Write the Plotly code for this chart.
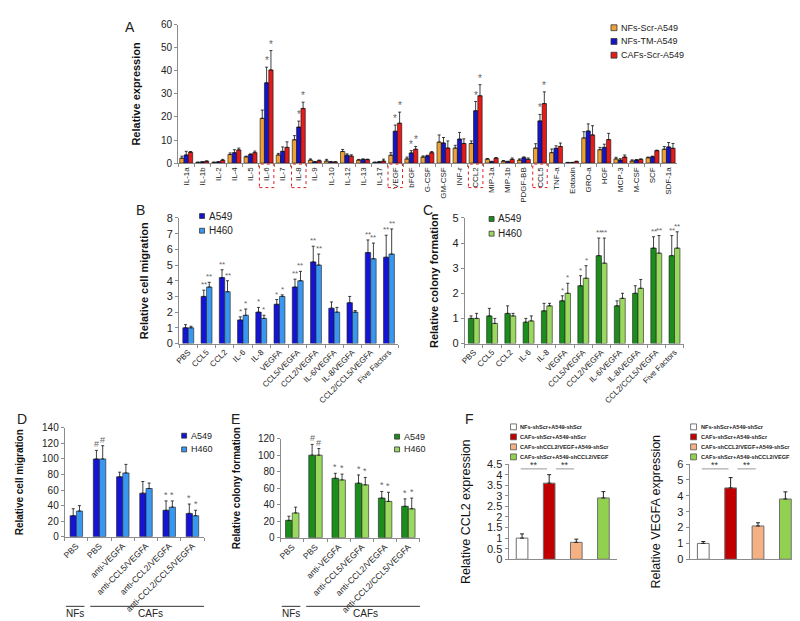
import plotly.graph_objects as go

W, H = 800, 621
FONT = "Arial, Liberation Sans, sans-serif"

# ---------------- Panel A: cytokine array ----------------
cytokines = ["IL-1a", "IL-1b", "IL-2", "IL-4", "IL-5", "IL-6", "IL-7", "IL-8", "IL-9", "IL-10",
             "IL-12", "IL-13", "IL-17", "VEGF", "bFGF", "G-CSF", "GM-CSF", "INF-r", "CCL2",
             "MIP-1a", "MIP-1b", "PDGF-BB", "CCL5", "TNF-a", "Eotaxin", "GRO-a", "HGF",
             "MCP-3", "M-CSF", "SCF", "SDF-1a"]
a_names = ["NFs-Scr-A549", "NFs-TM-A549", "CAFs-Scr-A549"]
a_nf_scr = [2.1, 0.3, 0.3, 3.7, 2.7, 19.4, 3.5, 10.1, 1.3, 0.9, 5.0, 1.3, 0.3, 3.4, 1.8, 2.6,
            9.1, 6.5, 8.5, 1.7, 0.85, 1.3, 6.5, 4.5, 0.2, 10.9, 5.8, 1.8, 0.9, 2.3, 6.0]
a_nf_scr_err = [0.9, 0.1, 0.1, 0.7, 0.3, 3.6, 0.7, 1.8, 0.5, 0.7, 0.9, 0.3, 0.1, 1.1, 0.8, 0.5,
                3.1, 1.2, 1.1, 0.3, 0.2, 0.5, 1.9, 1.6, 0.1, 2.7, 1.0, 0.7, 0.5, 0.3, 1.2]
a_nf_tm = [3.5, 0.5, 0.5, 4.5, 3.7, 34.8, 5.1, 15.6, 0.5, 0.5, 3.4, 1.6, 0.5, 13.8, 4.4, 3.1,
           8.7, 10.4, 22.7, 0.6, 0.6, 2.3, 18.3, 6.4, 0.2, 13.9, 6.8, 1.3, 1.3, 2.7, 7.0]
a_nf_tm_err = [1.6, 0.1, 0.1, 1.3, 0.3, 6.8, 1.9, 2.6, 0.2, 0.2, 0.6, 0.2, 0.2, 2.7, 1.0, 0.3,
               2.4, 2.9, 4.0, 0.2, 0.2, 0.4, 2.8, 1.1, 0.1, 3.1, 1.4, 0.6, 0.2, 0.3, 1.9]
a_caf_scr = [4.7, 0.8, 1.2, 5.7, 4.5, 40.4, 6.8, 23.7, 1.0, 0.5, 3.0, 1.5, 0.9, 17.3, 6.0, 4.5,
             6.5, 8.5, 29.2, 2.1, 1.6, 1.6, 25.8, 7.2, 0.7, 12.2, 10.2, 2.6, 1.6, 5.4, 6.4]
a_caf_scr_err = [0.3, 0.1, 0.4, 0.8, 0.7, 8.4, 2.4, 2.7, 0.3, 0.1, 0.6, 0.2, 0.8, 4.8, 1.2, 0.5,
                 3.1, 2.0, 4.8, 0.3, 0.6, 0.6, 5.1, 1.5, 0.1, 4.0, 2.7, 0.9, 0.2, 0.2, 2.1]
a_starred = ["IL-6", "IL-8", "VEGF", "bFGF", "CCL2", "CCL5"]
a_boxed = ["IL-6", "IL-8", "VEGF", "CCL2", "CCL5"]

# ---------------- Panels B, C: single / combined factors ----------------
factors = ["PBS", "CCL5", "CCL2", "IL-6", "IL-8", "VEGFA", "CCL5/VEGFA", "CCL2/VEGFA",
           "IL-6/VEGFA", "IL-8/VEGFA", "CCL2/CCL5/VEGFA", "Five Factors"]
lines = ["A549", "H460"]
b_a549 = [1.0, 3.0, 4.2, 1.5, 2.0, 2.5, 3.6, 5.2, 2.25, 2.6, 5.8, 5.5]
b_a549_err = [0.2, 0.4, 0.5, 0.2, 0.3, 0.3, 0.5, 1.0, 0.4, 0.4, 0.8, 1.4]
b_h460 = [1.0, 3.6, 3.3, 1.8, 1.6, 3.0, 4.0, 5.0, 2.0, 2.0, 5.4, 5.7]
b_h460_err = [0.1, 0.3, 0.7, 0.4, 0.2, 0.1, 0.6, 0.7, 0.3, 0.1, 1.0, 1.6]
b_mark_a549 = ["", "**", "**", "*", "*", "*", "**", "**", "", "", "**", "**"]
b_mark_h460 = ["", "**", "**", "*", "*", "*", "**", "**", "", "", "**", "**"]

c_a549 = [1.0, 1.1, 1.2, 0.85, 1.3, 1.7, 2.3, 3.5, 1.5, 2.0, 3.8, 3.5]
c_a549_err = [0.1, 0.3, 0.3, 0.15, 0.3, 0.2, 0.4, 0.7, 0.2, 0.3, 0.45, 0.8]
c_h460 = [1.0, 0.8, 1.1, 0.9, 1.5, 2.0, 2.6, 3.2, 1.8, 2.2, 3.6, 3.8]
c_h460_err = [0.2, 0.2, 0.1, 0.2, 0.1, 0.4, 0.5, 1.0, 0.2, 0.35, 0.7, 0.65]
c_mark_a549 = ["", "", "", "", "", "*", "*", "**", "", "", "**", "**"]
c_mark_h460 = ["", "", "", "", "", "*", "*", "**", "", "", "**", "**"]

# ---------------- Panels D, E: blocking antibodies ----------------
blocking = ["PBS", "PBS", "anti-VEGFA", "anti-CCL5/VEGFA", "anti-CCL2/VEGFA", "anti-CCL2/CCL5/VEGFA"]
d_a549 = [27, 100, 77, 56, 34, 30]
d_a549_err = [9, 11, 6, 15, 12, 12]
d_h460 = [33, 100, 82, 62, 38, 27]
d_h460_err = [7, 17, 11, 7, 8, 7]
d_mark = ["", "#", "", "", "*", "*"]

e_a549 = [21, 100, 72, 66, 48, 38]
e_a549_err = [5, 13, 6, 10, 8, 9]
e_h460 = [30, 100, 70, 64, 44, 35]
e_h460_err = [7, 8, 7, 9, 11, 13]
e_mark = ["", "#", "*", "*", "*", "*"]

# ---------------- Panel F: knock-down ----------------
f_groups = ["NFs-shScr+A549-shScr", "CAFs-shScr+A549-shScr",
            "CAFs-shCCL2/VEGF+A549-shScr", "CAFs-shScr+A549-shCCL2/VEGF"]
f_ccl2 = [1.0, 3.6, 0.8, 2.9]
f_ccl2_err = [0.2, 0.4, 0.15, 0.3]
f_vegfa = [1.0, 4.5, 2.1, 3.8]
f_vegfa_err = [0.12, 0.65, 0.2, 0.45]

# colours
a_colors = ["#EEA236", "#1515C8", "#E31B1B"]
blue_colors = ["#1414D2", "#3A97F0"]
green_colors = ["#1C8C1C", "#9AD860"]
f_colors = ["#FFFFFF", "#C00000", "#F5B183", "#92D050"]


def px(x):
    return x / W


def py(y):
    return 1 - y / H


def ax_ids(k):
    s = "" if k == 1 else str(k)
    return "x" + s, "y" + s, "xaxis" + s, "yaxis" + s


fig = go.Figure()


def grouped(k, x, series, width, line_color="#222"):
    xr, yr, _, _ = ax_ids(k)
    n = len(series)
    for i, (name, vals, errs, col) in enumerate(series):
        off = -n * width / 2 + i * width
        fig.add_trace(go.Bar(
            x=x, y=vals, name=name, xaxis=xr, yaxis=yr, width=width, offset=off,
            marker=dict(color=col, line=dict(color=line_color, width=0.6)),
            error_y=dict(type="data", array=errs, arrayminus=[0] * len(errs), symmetric=False,
                         color="#111", thickness=0.8, width=1.5),
            showlegend=False,
        ))


def mark(k, x, y, text, size=9, color="#666"):
    xr, yr, _, _ = ax_ids(k)
    fig.add_annotation(xref=xr, yref=yr, x=x, y=y, text=text, showarrow=False,
                       yanchor="bottom", yshift=-1, font=dict(size=size, color=color, family=FONT))


def legend_item(x, y, color, label, size=6, fsize=10, border="#333", bold=False):
    fig.add_shape(type="rect", xref="paper", yref="paper",
                  x0=px(x - size / 2), x1=px(x + size / 2), y0=py(y + size / 2), y1=py(y - size / 2),
                  fillcolor=color, line=dict(color=border, width=0.8))
    fig.add_annotation(xref="paper", yref="paper", x=px(x + size / 2 + 2), y=py(y), text=label,
                       showarrow=False, xanchor="left", yanchor="middle",
                       font=dict(size=fsize, color="#222", family=FONT,
                                 weight="bold" if bold else "normal"))


def letter(x, y, t):
    fig.add_annotation(xref="paper", yref="paper", x=px(x), y=py(y), text=t, showarrow=False,
                       xanchor="left", yanchor="middle", font=dict(size=14, color="#222", family=FONT))


axis_base = dict(showline=True, linecolor="#8c8c8c", linewidth=1, showgrid=False, zeroline=False,
                 ticks="outside", ticklen=3, tickcolor="#8c8c8c")
layout_axes = {}


def set_axes(k, xd, yd, yrange, dtick, ytitle, yfont=10, tfont=11, xfont=8, tickangle=-45,
             xtype="category", xextra=None, ystandoff=4):
    xr, yr, xk, yk = ax_ids(k)
    xa = dict(axis_base, domain=[px(xd[0]), px(xd[1])], anchor=yr, type=xtype, tickangle=tickangle,
              tickfont=dict(size=xfont, color="#222", family=FONT))
    if xextra:
        xa.update(xextra)
    ya = dict(axis_base, domain=[py(yd[0]), py(yd[1])], anchor=xr, range=yrange, dtick=dtick,
              tickfont=dict(size=yfont, color="#222", family=FONT),
              title=dict(text=ytitle, standoff=ystandoff,
                         font=dict(size=tfont, color="#111", family=FONT, weight="bold")))
    layout_axes[xk] = xa
    layout_axes[yk] = ya


# ---------- A ----------
aw = 0.27
grouped(1, cytokines, [(a_names[0], a_nf_scr, a_nf_scr_err, a_colors[0]),
                       (a_names[1], a_nf_tm, a_nf_tm_err, a_colors[1]),
                       (a_names[2], a_caf_scr, a_caf_scr_err, a_colors[2])], aw, "#111")
for c in a_starred:
    i = cytokines.index(c)
    mark(1, i, a_nf_tm[i] + a_nf_tm_err[i], "*", 10)
    mark(1, i + aw, a_caf_scr[i] + a_caf_scr_err[i], "*", 10)
for c in a_boxed:
    i = cytokines.index(c)
    fig.add_shape(type="rect", xref="x", yref="paper", x0=i - 0.45, x1=i + 0.45,
                  y0=py(177), y1=py(153), line=dict(color="#E02020", width=1, dash="dot"))
set_axes(1, (167, 668), (152, 11), [0, 60], 10, "Relative expression", yfont=10, tfont=11,
         xfont=8, tickangle=-90, xextra=dict(tickson="boundaries"), ystandoff=18)
for j in range(3):
    legend_item(605, 14 + 14 * j, a_colors[j], a_names[j], size=6, fsize=9)
letter(112, 13, "A")

# ---------- B ----------
grouped(2, factors, [(lines[0], b_a549, b_a549_err, blue_colors[0]),
                     (lines[1], b_h460, b_h460_err, blue_colors[1])], 0.3)
for i in range(len(factors)):
    if b_mark_a549[i]:
        mark(2, i - 0.15, b_a549[i] + b_a549_err[i], b_mark_a549[i], 8)
    if b_mark_h460[i]:
        mark(2, i + 0.15, b_h460[i] + b_h460_err[i], b_mark_h460[i], 8)
set_axes(2, (168, 388), (336, 208), [0, 8], 1, "Relative cell migration", yfont=11, tfont=11,
         xfont=8, xextra=dict(tickson="boundaries"), ystandoff=15)
for j in range(2):
    legend_item(191, 206 + 15 * j, blue_colors[j], lines[j], size=5, fsize=10)
letter(123, 200, "B")

# ---------- C ----------
grouped(3, factors, [(lines[0], c_a549, c_a549_err, green_colors[0]),
                     (lines[1], c_h460, c_h460_err, green_colors[1])], 0.3)
for i in range(len(factors)):
    if c_mark_a549[i]:
        mark(3, i - 0.15, c_a549[i] + c_a549_err[i], c_mark_a549[i], 8)
    if c_mark_h460[i]:
        mark(3, i + 0.15, c_h460[i] + c_h460_err[i], c_mark_h460[i], 8)
set_axes(3, (455, 675), (336, 208), [0, 5], 1, "Relative colony formation", yfont=11, tfont=11,
         xfont=8, xextra=dict(tickson="boundaries"), ystandoff=11)
for j in range(2):
    legend_item(482, 209 + 15 * j, green_colors[j], lines[j], size=5, fsize=10)
letter(411, 200, "C")

# ---------- D / E ----------
pos = list(range(len(blocking)))
lin_x = dict(range=[-0.5, len(blocking) - 0.5], tickmode="array", tickvals=pos, ticktext=blocking,
             ticks="", minor=dict(ticks="outside", ticklen=3, tickcolor="#8c8c8c", tick0=-0.5, dtick=1))

grouped(4, pos, [(lines[0], d_a549, d_a549_err, blue_colors[0]),
                 (lines[1], d_h460, d_h460_err, blue_colors[1])], 0.27)
grouped(5, pos, [(lines[0], e_a549, e_a549_err, green_colors[0]),
                 (lines[1], e_h460, e_h460_err, green_colors[1])], 0.29)
for i in pos:
    if d_mark[i]:
        mark(4, i - 0.135, d_a549[i] + d_a549_err[i], d_mark[i], 9)
        mark(4, i + 0.135, d_h460[i] + d_h460_err[i], d_mark[i], 9)
    if e_mark[i]:
        mark(5, i - 0.145, e_a549[i] + e_a549_err[i], e_mark[i], 9)
        mark(5, i + 0.145, e_h460[i] + e_h460_err[i], e_mark[i], 9)
set_axes(4, (53, 193), (533, 422), [0, 140], 20, "Relative cell migration", yfont=10, tfont=10,
         xfont=8.5, xtype="linear", xextra=lin_x, ystandoff=16)
set_axes(5, (270, 410), (534, 433), [0, 120], 20, "Relative colony formation", yfont=10, tfont=10,
         xfont=8.5, xtype="linear", xextra=lin_x, ystandoff=15)
for k in (4, 5):
    xr = ax_ids(k)[0]
    for (x0, x1), lab in (((-0.45, 0.35), "NFs"), ((0.6, 5.75), "CAFs")):
        fig.add_shape(type="line", xref=xr, yref="paper", x0=x0, x1=x1, y0=py(604), y1=py(604),
                      line=dict(color="#333", width=1))
        fig.add_annotation(xref=xr, yref="paper", x=(x0 + x1) / 2, y=py(611), text=lab, showarrow=False,
                           yanchor="middle", font=dict(size=10, color="#222", family=FONT))
for j in range(2):
    legend_item(173, 430 + 14 * j, blue_colors[j], lines[j], size=5, fsize=9)
    legend_item(387, 431 + 13 * j, green_colors[j], lines[j], size=5, fsize=9)
letter(3, 413, "D")
letter(218, 413, "E")

# ---------- F ----------
for k, vals, errs, xd, yr_, dt, title in (
        (6, f_ccl2, f_ccl2_err, (499, 608), [0, 4.5], 0.5, "Relative CCL2 expression"),
        (7, f_vegfa, f_vegfa_err, (681, 791), [0, 6], 1, "Relative VEGFA expression")):
    xr, yr, xk, yk = ax_ids(k)
    fig.add_trace(go.Bar(
        x=f_groups, y=vals, xaxis=xr, yaxis=yr, width=0.43, showlegend=False,
        marker=dict(color=f_colors, line=dict(color="#6f6f6f", width=1)),
        error_y=dict(type="data", array=errs, arrayminus=[0] * 4, symmetric=False,
                     color="#222", thickness=1, width=2)))
    set_axes(k, xd, (556, 459), yr_, dt, title, yfont=11, tfont=12.5,
             xextra=dict(showticklabels=False, ticks=""), ystandoff=13)
    layout_axes[yk]["title"]["font"]["weight"] = "normal"
    top = yr_[1] * 0.95
    for a, b in ((0, 1), (1, 2)):
        x0, x1 = a - 0.05 + (0.3 if a == 1 else 0), b - 0.08
        fig.add_shape(type="line", xref=xr, yref=yr, x0=x0, x1=x1, y0=top, y1=top,
                      line=dict(color="#999", width=1))
        fig.add_annotation(xref=xr, yref=yr, x=(x0 + x1) / 2, y=top, text="**", showarrow=False,
                           yanchor="bottom", yshift=-3, font=dict(size=9, color="#333", family=FONT))
for j in range(4):
    for lx in (504, 685):
        legend_item(lx, 421 + 10.2 * j, f_colors[j], f_groups[j], size=6, fsize=5.6,
                    border="#555", bold=True)
letter(453, 413, "F")

fig.update_layout(
    width=W, height=H, margin=dict(l=0, r=0, t=0, b=0),
    paper_bgcolor="white", plot_bgcolor="white", showlegend=False,
    font=dict(family=FONT, color="#222"),
    **layout_axes,
)

fig.write_html("out.html")
